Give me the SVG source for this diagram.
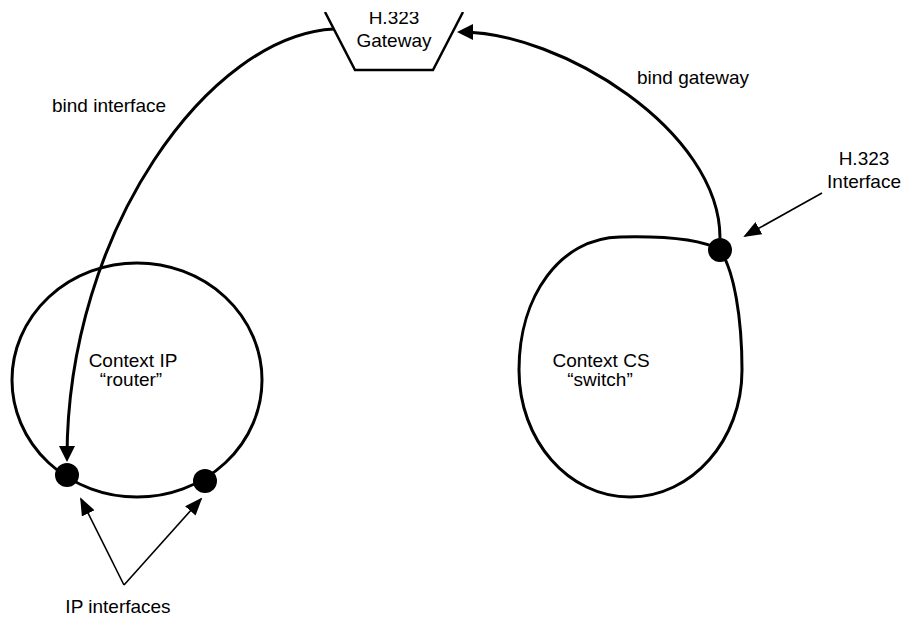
<svg xmlns="http://www.w3.org/2000/svg" width="904" height="619" viewBox="0 0 904 619">
<style>
  .lbl { font-family: "Liberation Sans", Arial, sans-serif; font-size: 19px; fill: #000; text-anchor: middle; }
  .shape { fill: none; stroke: #000; stroke-width: 3; }
  .gw { fill: none; stroke: #000; stroke-width: 2.5; stroke-linejoin: miter; }
  .thick { fill: none; stroke: #000; stroke-width: 3; }
  .thin { fill: none; stroke: #000; stroke-width: 1.6; }
  .dot { fill: #000; }
</style>
<defs>
  <marker id="ahThick" viewBox="0 0 16 16" markerWidth="16" markerHeight="16" refX="12" refY="8" orient="auto" markerUnits="userSpaceOnUse">
    <path d="M0,0 L16,8 L0,16 Z" fill="#000"/>
  </marker>
  <marker id="ahThin" viewBox="0 0 18 14" markerWidth="18" markerHeight="14" refX="16" refY="7" orient="auto" markerUnits="userSpaceOnUse">
    <path d="M0,0 L18,7 L0,14 Z" fill="#000"/>
  </marker>
  <clipPath id="topclip"><rect x="0" y="12" width="904" height="607"/></clipPath>
</defs>
<rect width="904" height="619" fill="#fff"/>

<g id="gateway" clip-path="url(#topclip)">
  <path class="gw" d="M325,12 L355,70 L433,70 L463,12"/>
  <text class="lbl" x="394" y="24">H.323</text>
  <text class="lbl" x="394" y="47">Gateway</text>
</g>

<g id="context-ip">
  <ellipse class="shape" cx="137" cy="380" rx="125" ry="117"/>
  <text class="lbl" x="133" y="367">Context IP</text>
  <text class="lbl" x="131" y="386">“router”</text>
</g>

<g id="context-cs">
  <path class="shape" d="M720,250 C734,270 742,318 742,370 C742,440 692,497 630,497 C568,497 519,440 519,370 C519,296 560,238 620,237 C662,236 701,239 720,250 Z"/>
  <text class="lbl" x="601" y="367">Context CS</text>
  <text class="lbl" x="600" y="386">“switch”</text>
</g>

<g id="ip-interface-1"><circle class="dot" cx="67" cy="475" r="12"/></g>
<g id="ip-interface-2"><circle class="dot" cx="205" cy="481" r="12"/></g>
<g id="h323-interface"><circle class="dot" cx="720" cy="250" r="12"/></g>

<g id="labels">
  <text class="lbl" x="109" y="112">bind interface</text>
  <text class="lbl" x="693" y="84">bind gateway</text>
  <text class="lbl" x="864" y="165">H.323</text>
  <text class="lbl" x="864" y="188">Interface</text>
  <text class="lbl" x="118" y="613">IP interfaces</text>
</g>

<g id="connectors">
  <path class="thick" d="M334,29 C210,35 67,230 67,458" marker-end="url(#ahThick)"/>
  <path class="thick" d="M720,238 C720,130 560,32 461,32" marker-end="url(#ahThick)"/>
  <path class="thin" d="M822,193 L745,236" marker-end="url(#ahThin)"/>
  <path class="thin" d="M124,585 L81,499" marker-end="url(#ahThin)"/>
  <path class="thin" d="M124,585 L201,499" marker-end="url(#ahThin)"/>
</g>
</svg>
